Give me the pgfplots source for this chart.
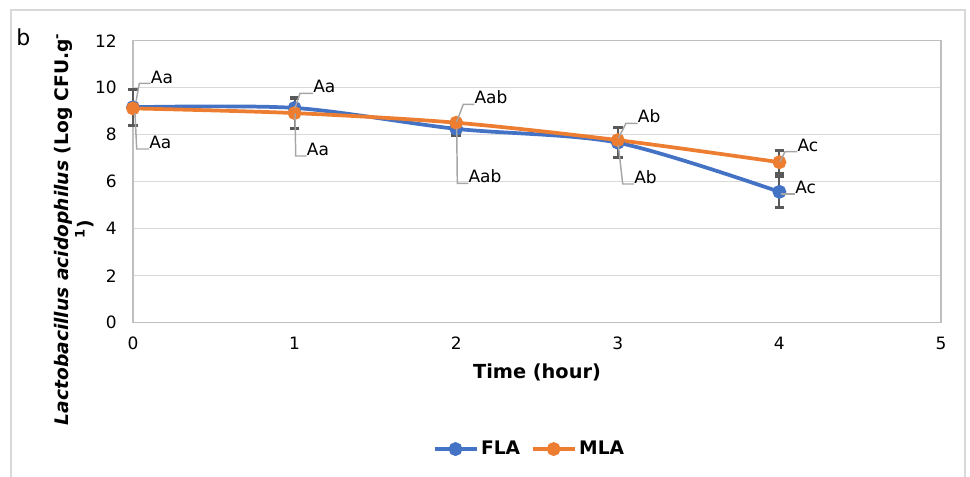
\documentclass[border=0pt]{standalone}
\usepackage{fontspec}
\setmainfont{DejaVu Sans}
\usepackage{pgfplots}
\pgfplotsset{compat=1.18}
\definecolor{flablue}{HTML}{4472C4}
\definecolor{mlaorange}{HTML}{ED7D31}
\definecolor{gridgray}{HTML}{D9D9D9}
\definecolor{axisgray}{HTML}{BFBFBF}
\definecolor{errgray}{HTML}{595959}
\definecolor{leadgray}{HTML}{A6A6A6}

% x, y, error
\pgfplotstableread{
x y e
0 9.17 0.77
1 9.14 0.10
2 8.25 0.28
3 7.66 0.63
4 5.57 0.67
}\fla
\pgfplotstableread{
x y e
0 9.12 0.10
1 8.92 0.64
2 8.51 0.10
3 7.77 0.10
4 6.83 0.50
}\mla

\begin{document}
\begin{tikzpicture}
\begin{axis}[
  scale only axis,
  width=606pt, height=211.5pt,
  xmin=0, xmax=5, ymin=0, ymax=12,
  xtick={0,1,2,3,4,5}, ytick={0,2,...,12},
  axis line style={draw=axisgray, line width=1.1pt},
  ymajorgrids, grid style={gridgray, line width=1.1pt},
  tick style={draw=none},
  ticklabel style={font=\fontsize{12.75}{14}\selectfont},
  /pgf/number format/assume math mode=true,
  xticklabel style={yshift=-7.4pt},
  yticklabel style={xshift=-8.7pt},
  xlabel={Time (hour)},
  xlabel style={at={(rel axis cs:0.5,-0.178)}, anchor=center, font=\fontsize{14.5}{16}\bfseries},
  ylabel={\textit{Lactobacillus acidophilus} (Log CFU.g\textsuperscript{-}\\\textsuperscript{1})},
  ylabel style={at={(rel axis cs:-0.073,0.332)}, anchor=center, align=center,
    font=\fontsize{14}{17.5}\bfseries},
  clip=false,
  legend columns=2,
  legend style={at={(rel axis cs:0.491,-0.448)}, anchor=center, draw=none,
    font=\fontsize{14}{16}\bfseries,
    /tikz/every even column/.append style={column sep=6pt}},
  legend image code/.code={
    \draw[#1, mark repeat=2, mark phase=2] plot coordinates {(0pt,0pt) (15.75pt,0pt) (31.5pt,0pt)};},
  every axis plot/.append style={line width=2.8pt, smooth, mark=*, mark size=3.75pt},
  error bars/y dir=both, error bars/y explicit,
  error bars/error bar style={errgray, line width=1.6pt},
  error bars/error mark options={errgray, rotate=90, mark size=3.6pt, line width=2.4pt},
]
\addplot[flablue, mark options={fill=flablue, draw=flablue}] table[x=x, y=y, y error=e] {\fla};
\addlegendentry{FLA}
\addplot[mlaorange, mark options={fill=mlaorange, draw=mlaorange}] table[x=x, y=y, y error=e] {\mla};
\addlegendentry{MLA}
\coordinate (P0) at (rel axis cs:-0.164604,1.144326);
\coordinate (P1) at (rel axis cs:1.035891,-0.543617);
\end{axis}
\begin{scope}[shift={(P0)}, x=0.75pt, y=-0.75pt]
  % outer chart frame
  \draw[gridgray, line width=1.1pt] (11,600) -- (11,10) -- (965,10) -- (965,600);
  \node[anchor=base west, inner sep=0, font=\fontsize{16.5}{18}\selectfont] at (16,45) {b};
  % data labels with leader lines
  \begin{scope}[every node/.style={anchor=west, inner sep=0, font=\fontsize{12.75}{14}\selectfont},
      leader/.style={leadgray, line width=1.1pt}]
    \draw[leader] (136,101.7) -- (139.3,83.3) -- (150.7,83.3);
    \node at (150.7,77) {Aa};
    \draw[leader] (135,113) -- (136.7,149) -- (149,149);
    \node at (149,142) {Aa};
    \draw[leader] (295,108) -- (300,93.3) -- (313,93.3);
    \node at (313,86.5) {Aa};
    \draw[leader] (295,113.3) -- (295.7,156) -- (306.7,156);
    \node at (306.7,149) {Aa};
    \draw[leader] (456.7,121.7) -- (463.3,104.3) -- (474.3,104.3);
    \node at (474.3,97.5) {Aab};
    \draw[leader] (456.7,128.3) -- (457.3,183.3) -- (468.3,183.3);
    \node at (468.3,176.3) {Aab};
    \draw[leader] (618.3,138.3) -- (626,123.3) -- (637.7,123.3);
    \node at (637.7,116.5) {Ab};
    \draw[leader] (618.3,145) -- (622.7,184) -- (634,184);
    \node at (634,177) {Ab};
    \draw[leader] (780,161.7) -- (785,151.7) -- (797.3,151.7);
    \node at (797.3,145) {Ac};
    \draw[leader] (781,194) -- (795,194);
    \node at (795,187) {Ac};
  \end{scope}
\end{scope}
\pgfresetboundingbox
\path[use as bounding box] (P0) rectangle (P1);
\end{tikzpicture}
\end{document}
